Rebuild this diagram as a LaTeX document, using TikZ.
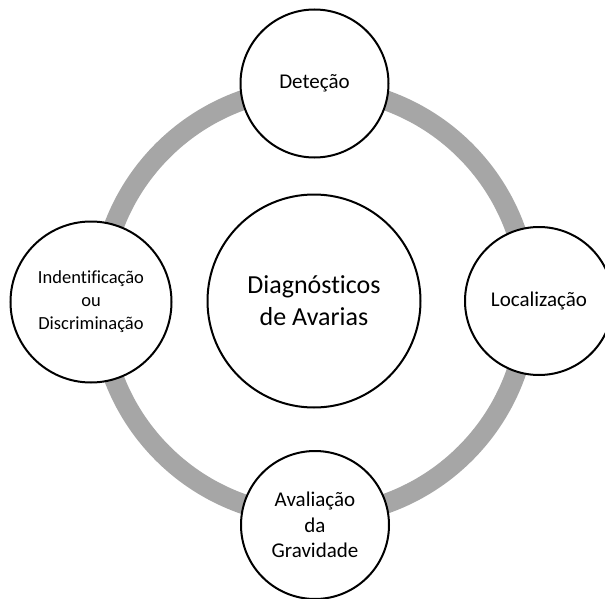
\documentclass[tikz,border=0pt]{standalone}
\usepackage{fontspec}
\setmainfont{Carlito}[Ligatures=NoCommon]
\definecolor{ringgray}{HTML}{A6A6A6}
\begin{document}
\begin{tikzpicture}[x=1pt,y=-1pt,
  stage/.style={circle, draw=black, line width=2pt, fill=white, inner sep=0pt,
    align=center, minimum size=148pt, font=\fontsize{21}{25.5}\selectfont},
  hub/.style={stage, minimum size=213pt, font=\fontsize{26}{32}\selectfont},
  wide stage/.style={stage, minimum size=161pt, font=\fontsize{18.5}{23}\selectfont},
  cycle ring/.style={draw=ringgray, line width=20pt}]
\useasboundingbox (0,0) rectangle (605,599);
\clip (0,0) rectangle (605,599);
% grey cycle ring behind the stages
\coordinate (ctr) at (314,302);
\draw[cycle ring] (ctr) circle[radius=214pt];
% central topic
\node[hub] (diag) at (314,301) {Diagnósticos\\de Avarias};
% the four stages around the ring
\node[stage] (det) at (314.5,83.5) {Deteção};
\node[stage] (loc) at (539,301) {Localização};
\node[stage] (aval) at (315,525) {Avaliação\\da\\Gravidade};
\node[wide stage] (ident) at (91,302) {Indentificação\\ou\\Discriminação};
\end{tikzpicture}
\end{document}
